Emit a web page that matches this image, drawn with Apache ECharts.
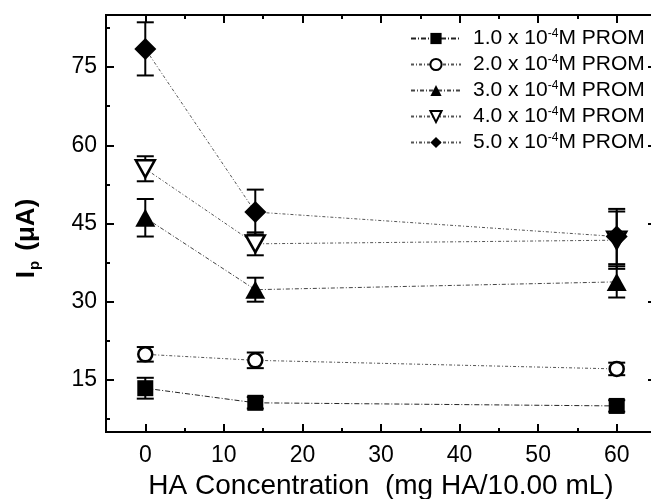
<!DOCTYPE html>
<html>
<head>
<meta charset="utf-8">
<script src="https://cdn.jsdelivr.net/npm/echarts@6/dist/echarts.min.js"></script>
<style>
  html, body { margin: 0; padding: 0; background: #fff; }
  #chart { width: 651px; height: 499px; }
</style>
</head>
<body>
<div id="chart"></div>
<script>
// HA concentration (mg HA / 10.00 mL)
const haConc = [0, 14, 60];
// PROM concentration (x 10^-4 M), one series each
const promLabels = ['1.0', '2.0', '3.0', '4.0', '5.0'];
// peak current Ip (uA) and error bar half widths
const ip1 = [13.4, 10.6, 10.0];
const err1 = [2.0, 1.1, 1.1];
const ip2 = [19.9, 18.75, 17.1];
const err2 = [1.4, 1.5, 1.2];
const ip3 = [46.1, 32.3, 33.8];
const err3 = [3.6, 2.3, 3.0];
const ip4 = [55.5, 41.1, 41.8];
const err4 = [2.4, 2.2, 5.5];
const ip5 = [78.5, 47.2, 42.5];
const err5 = [5.1, 4.3, 5.3];
// tick positions
const xMajorTicks = [0, 10, 20, 30, 40, 50, 60];
const xMinorTicks = [5, 15, 25, 35, 45, 55];
const yMajorTicks = [15, 30, 45, 60, 75];
const yMinorTicks = [7.5, 22.5, 37.5, 52.5, 67.5, 82.5];

const FONT = 'Liberation Sans';
const chart = echarts.init(document.getElementById('chart'));

function frameAxis(position, min, max, ticks, len, showLabel) {
  return {
    type: 'value',
    position: position,
    min: min,
    max: max,
    axisLine: { show: true, onZero: false, lineStyle: { color: '#000', width: 2 } },
    axisTick: { show: true, inside: true, length: len, customValues: ticks, lineStyle: { color: '#000', width: 2 } },
    axisLabel: { show: showLabel, customValues: ticks, margin: 9, color: '#000', fontSize: 23, fontFamily: FONT },
    splitLine: { show: false }
  };
}

const xBottom = frameAxis('bottom', -5, 65, xMajorTicks, 8, true);
xBottom.axisLabel.margin = 12;
xBottom.name = 'HA Concentration  (mg HA/10.00 mL)';
xBottom.nameLocation = 'middle';
xBottom.nameGap = 40;
xBottom.nameTextStyle = { fontSize: 28, fontFamily: FONT, color: '#000' };

const yLeft = frameAxis('left', 5, 85, yMajorTicks, 8, true);
yLeft.name = 'I{sub|p} (μA)';
yLeft.nameLocation = 'middle';
yLeft.nameGap = 64;
yLeft.nameRotate = 90;
yLeft.nameTextStyle = {
  fontSize: 26, fontWeight: 'bold', fontFamily: FONT, color: '#000', padding: [0, 30, 0, 0],
  rich: { sub: { fontSize: 15, fontWeight: 'bold', fontFamily: FONT, color: '#000', verticalAlign: 'bottom', padding: [16, 3, 0, 1] } }
};

// error bars drawn as a custom series
function errorSeries(vals, errs) {
  return {
    type: 'custom',
    xAxisIndex: 0,
    yAxisIndex: 0,
    silent: true,
    z: 1,
    data: haConc.map((x, i) => [x, vals[i] - errs[i], vals[i] + errs[i]]),
    encode: { x: 0, y: [1, 2] },
    renderItem: function (params, api) {
      const top = api.coord([api.value(0), api.value(2)]);
      const bot = api.coord([api.value(0), api.value(1)]);
      const w = 8.5;
      const st = { stroke: '#000', lineWidth: 2 };
      return {
        type: 'group',
        children: [
          { type: 'line', shape: { x1: top[0], y1: top[1], x2: bot[0], y2: bot[1] }, style: st },
          { type: 'line', shape: { x1: top[0] - w, y1: top[1], x2: top[0] + w, y2: top[1] }, style: st },
          { type: 'line', shape: { x1: bot[0] - w, y1: bot[1], x2: bot[0] + w, y2: bot[1] }, style: st }
        ]
      };
    }
  };
}

function lineSeries(name, vals, sym) {
  return {
    name: name,
    type: 'line',
    xAxisIndex: 0,
    yAxisIndex: 0,
    z: 3,
    data: haConc.map((x, i) => [x, vals[i]]),
    symbol: sym.symbol,
    symbolSize: sym.size,
    symbolRotate: sym.rotate || 0,
    itemStyle: { color: sym.fill, borderColor: '#000', borderWidth: sym.border },
    lineStyle: { color: sym.lineColor, width: 1, type: sym.dash }
  };
}

const symbols = [
  { symbol: 'rect', size: 16, fill: '#000', border: 0, lineColor: '#222', dash: [5, 2, 1, 2] },
  { symbol: 'circle', size: 14, fill: '#fff', border: 2.5, lineColor: '#555', dash: [3, 2, 1, 2] },
  { symbol: 'triangle', size: [20, 18], fill: '#000', border: 0, lineColor: '#444', dash: [4, 2, 1, 2] },
  { symbol: 'triangle', size: [19, 17], rotate: 180, fill: '#fff', border: 2.5, lineColor: '#555', dash: [3, 2, 1, 2] },
  { symbol: 'diamond', size: 22, fill: '#000', border: 0, lineColor: '#555', dash: [3, 2, 1, 2] }
];
const allIp = [ip1, ip2, ip3, ip4, ip5];
const allErr = [err1, err2, err3, err4, err5];

const series = [];
allIp.forEach((vals, i) => {
  series.push(errorSeries(vals, allErr[i]));
  series.push(lineSeries(promLabels[i], vals, symbols[i]));
});

const option = {
  backgroundColor: '#fff',
  animation: false,
  grid: { left: 106, right: -5, top: 15, bottom: 67, outerBoundsMode: 'none' },
  legend: {
    data: promLabels,
    orient: 'vertical',
    left: 405,
    top: 23,
    itemWidth: 50,
    itemHeight: 14,
    itemGap: 5,
    formatter: function (name) {
      return name + ' x 10{sup|-4}M PROM';
    },
    textStyle: {
      fontSize: 21, fontFamily: FONT, color: '#000', padding: [0, 0, 0, 7],
      rich: { sup: { fontSize: 12, fontFamily: FONT, color: '#000', verticalAlign: 'top', padding: [0, 0, 8, 0] } }
    }
  },
  xAxis: [
    xBottom,
    frameAxis('bottom', -5, 65, xMinorTicks, 4, false),
    frameAxis('top', -5, 65, xMajorTicks, 8, false),
    frameAxis('top', -5, 65, xMinorTicks, 4, false)
  ],
  yAxis: [
    yLeft,
    frameAxis('left', 5, 85, yMinorTicks, 4, false),
    frameAxis('right', 5, 85, yMajorTicks, 8, false),
    frameAxis('right', 5, 85, yMinorTicks, 4, false)
  ],
  series: series
};
chart.setOption(option);
</script>
</body>
</html>
